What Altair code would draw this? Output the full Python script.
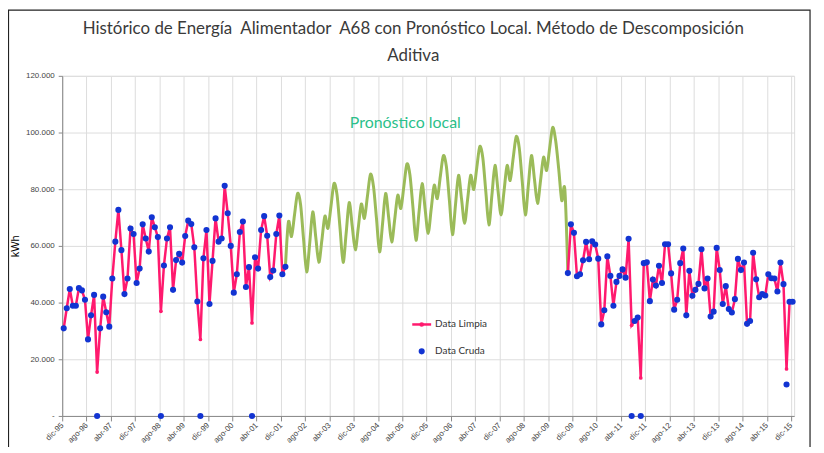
import json
import altair as alt
import pandas as pd

# ---------------- data (values in thousands of kWh) ----------------
tick_labels = ["dic-95", "ago-96", "abr-97", "dic-97", "ago-98", "abr-99", "dic-99", "ago-00",
               "abr-01", "dic-01", "ago-02", "abr-03", "dic-03", "ago-04", "abr-05", "dic-05",
               "ago-06", "abr-07", "dic-07", "ago-08", "abr-09", "dic-09", "ago-10", "abr-11",
               "dic-11", "ago-12", "abr-13", "dic-13", "ago-14", "abr-15", "dic-15"]

title_lines = ["Histórico de Energía\u00a0 Alimentador\u00a0 A68 con Pronóstico Local. Método de Descomposición",
               "Aditiva"]

# Data Limpia, month index 0 (dic-95) .. 73
limpia_a = [30.9, 38.0, 44.8, 38.9, 38.9, 45.1, 44.3, 41.0, 27.0, 35.5,
            42.7, 15.5, 30.9, 42.1, 36.6, 31.5, 48.5, 61.5, 72.7, 58.5,
            43.0, 48.5, 66.1, 64.2, 46.9, 52.0, 67.6, 62.6, 58.0, 70.1,
            66.6, 63.1, 36.9, 53.1, 62.6, 66.6, 44.5, 55.0, 57.2, 54.1,
            63.5, 68.9, 67.7, 59.5, 40.4, 27.0, 55.6, 65.6, 39.5, 54.7,
            69.7, 61.5, 62.6, 81.2, 71.5, 60.0, 43.5, 50.0, 64.9, 68.6,
            45.5, 52.5, 32.8, 56.0, 52.0, 65.6, 70.5, 63.6, 49.0, 51.3,
            64.2, 70.7, 50.0, 52.6]
# Data Limpia, month index 166 .. 240 (dic-15)
limpia_b = [50.4, 67.6, 64.6, 49.3, 50.0, 54.9, 61.4, 55.3, 61.6, 60.5,
            55.5, 32.3, 37.3, 56.3, 49.4, 38.9, 47.3, 49.4, 51.7, 48.8,
            62.5, 32.0, 33.5, 34.7, 13.4, 53.9, 54.2, 40.5, 48.1, 46.0,
            53.0, 46.9, 60.6, 60.6, 50.3, 37.5, 41.0, 53.9, 59.1, 35.5,
            51.2, 42.4, 44.5, 46.6, 58.8, 45.0, 48.5, 35.1, 36.8, 59.3,
            51.5, 39.5, 45.8, 37.7, 36.5, 41.2, 55.4, 51.5, 54.1, 32.5,
            33.5, 57.6, 48.2, 41.9, 43.0, 42.5, 50.0, 48.6, 48.5, 43.9,
            54.1, 46.5, 16.6, 40.3, 40.3]
# Data Cruda, month index 0 .. 73
cruda_a = [30.9, 38.0, 44.8, 38.9, 38.9, 45.1, 44.3, 41.0, 27.0, 35.5,
           42.7, 0.0, 30.9, 42.1, 36.6, 31.5, 48.5, 61.5, 72.7, 58.5,
           43.0, 48.5, 66.1, 64.2, 46.9, 52.0, 67.6, 62.6, 58.0, 70.1,
           66.6, 63.1, 0.0, 53.1, 62.6, 66.6, 44.5, 55.0, 57.2, 54.1,
           63.5, 68.9, 67.7, 59.5, 40.4, 0.0, 55.6, 65.6, 39.5, 54.7,
           69.7, 61.5, 62.6, 81.2, 71.5, 60.0, 43.5, 50.0, 64.9, 68.6,
           45.5, 52.5, 0.0, 56.0, 52.0, 65.6, 70.5, 63.6, 49.0, 51.3,
           64.2, 70.7, 50.0, 52.6]
# Data Cruda, month index 166 .. 240
cruda_b = [50.4, 67.6, 64.6, 49.3, 50.0, 54.9, 61.4, 55.3, 61.6, 60.5,
           55.5, 32.3, 37.3, 56.3, 49.4, 38.9, 47.3, 49.4, 51.7, 48.8,
           62.5, 0.0, 33.5, 34.7, 0.0, 53.9, 54.2, 40.5, 48.1, 46.0,
           53.0, 46.9, 60.6, 60.6, 50.3, 37.5, 41.0, 53.9, 59.1, 35.5,
           51.2, 42.4, 44.5, 46.6, 58.8, 45.0, 48.5, 35.1, 36.8, 59.3,
           51.5, 39.5, 45.8, 37.7, 36.5, 41.2, 55.4, 51.5, 54.1, 32.5,
           33.5, 57.6, 48.2, 41.9, 43.0, 42.5, 50.0, 48.6, 48.5, 43.9,
           54.1, 46.5, 11.1, 40.3, 40.3]
# Pronóstico local, month index 73 .. 166
pronostico = [52.6, 68.5, 63.3, 71.0, 78.5, 74.5, 62.0, 50.8, 61.0, 72.0,
              63.0, 54.2, 62.0, 70.5, 66.2, 74.0, 82.0, 78.0, 66.0, 54.2,
              64.5, 75.3, 67.0, 58.6, 66.5, 74.8, 69.7, 77.5, 85.3, 81.0,
              69.5, 57.9, 68.0, 78.5, 70.0, 61.4, 69.5, 77.9, 73.2, 81.0,
              88.9, 85.0, 73.5, 62.0, 72.0, 82.0, 73.0, 64.4, 73.0, 81.4,
              76.7, 84.5, 91.8, 88.0, 76.0, 64.0, 74.5, 84.9, 76.5, 68.0,
              76.5, 84.9, 79.9, 87.5, 95.1, 91.0, 79.0, 67.4, 78.0, 88.4,
              79.5, 70.9, 79.5, 88.4, 83.1, 91.0, 98.6, 94.5, 82.5, 70.9,
              81.5, 91.9, 83.5, 75.0, 83.0, 91.3, 86.6, 94.5, 101.8, 97.0,
              87.0, 76.0, 80.0, 50.4]

START_A, START_B, START_P = 0, 166, 73

def frame(values, start, seg):
    return pd.DataFrame({
        "t": [start + i + 0.5 for i in range(len(values))],
        "v": [v * 1000 for v in values],
        "seg": seg,
    })

limpia_df = pd.concat([frame(limpia_a, START_A, "a"), frame(limpia_b, START_B, "b")])
cruda_df = pd.concat([frame(cruda_a, START_A, "a"), frame(cruda_b, START_B, "b")])
pron_df = frame(pronostico, START_P, "p")

# ---------------- styling ----------------
W, H = 736, 342
FONT = "Lato"
GRID = "#777777"
PINK = "#ff1a6e"
BLUE = "#1234d2"
GREEN = "#9bbb59"

label_expr = json.dumps(tick_labels) + "[round(datum.value / 8)]"

x_enc = alt.X("t:Q",
              scale=alt.Scale(domain=[0, 241], nice=False, zero=False),
              axis=alt.Axis(values=list(range(0, 241, 8)), labelExpr=label_expr,
                            labelAngle=315, labelAlign="right", labelBaseline="middle",
                            labelFontSize=8, labelPadding=3, tickSize=5, grid=True,
                            title=None, labelOverlap=False, labelFlush=False,
                            labelColor="#444444"))
y_enc = alt.Y("v:Q",
              scale=alt.Scale(domain=[0, 120000], nice=False),
              axis=alt.Axis(values=list(range(0, 120001, 20000)),
                            labelExpr="datum.value == 0 ? '-' : replace(format(datum.value, ','), ',', '.')",
                            title="kWh", titleFontSize=11, titleFontWeight="normal",
                            titleX=-47, titleY=171, titleAlign="center", titleBaseline="middle",
                            labelFontSize=8, tickSize=4, labelPadding=4, labelColor="#444444"))

green = alt.Chart(pron_df).mark_line(color=GREEN, strokeWidth=3, interpolate="cardinal", tension=0.1).encode(
    x=x_enc, y=y_enc)
pink_line = alt.Chart(limpia_df).mark_line(color=PINK, strokeWidth=2.5).encode(
    x=x_enc, y=y_enc, detail="seg:N")
pink_pts = alt.Chart(limpia_df).mark_point(color=PINK, filled=True, size=14, opacity=1).encode(
    x=x_enc, y=y_enc)
blue_pts = alt.Chart(cruda_df).mark_point(color=BLUE, filled=True, size=38, opacity=1).encode(
    x=x_enc, y=y_enc)

one = pd.DataFrame({"k": [0]})
border = alt.Chart(one).mark_rect(fill="transparent", stroke="#222222", strokeWidth=1.2).encode(
    x=alt.value(-54), x2=alt.value(W + 16), y=alt.value(-66), y2=alt.value(H + 60))

title1 = alt.Chart(one).mark_text(text=title_lines[0], font=FONT, fontSize=17, color="#3a3a3a",
                                  align="center", baseline="middle").encode(
    x=alt.value(353), y=alt.value(-47))
title2 = alt.Chart(one).mark_text(text=title_lines[1], font=FONT, fontSize=17, color="#3a3a3a",
                                  align="center", baseline="middle").encode(
    x=alt.value(353), y=alt.value(-20))

annot = alt.Chart(one).mark_text(text="Pronóstico local", font=FONT, fontSize=16,
                                 color="#2bbf8a", align="center", baseline="middle").encode(
    x=alt.value(345), y=alt.value(47))

leg_line = alt.Chart(one).mark_rule(color=PINK, strokeWidth=2.5).encode(
    x=alt.value(352), x2=alt.value(371), y=alt.value(250))
leg_pdot = alt.Chart(one).mark_point(color=PINK, filled=True, size=22, opacity=1).encode(
    x=alt.value(361.5), y=alt.value(250))
leg_bdot = alt.Chart(one).mark_point(color=BLUE, filled=True, size=38, opacity=1).encode(
    x=alt.value(361.5), y=alt.value(277))
leg_t1 = alt.Chart(one).mark_text(text="Data Limpia", font=FONT, fontSize=10, color="#333333",
                                  align="left", baseline="middle").encode(
    x=alt.value(375), y=alt.value(250))
leg_t2 = alt.Chart(one).mark_text(text="Data Cruda", font=FONT, fontSize=10, color="#333333",
                                  align="left", baseline="middle").encode(
    x=alt.value(375), y=alt.value(277))

chart = alt.layer(
    border, green, pink_line, pink_pts, blue_pts, annot, title1, title2,
    leg_line, leg_pdot, leg_bdot, leg_t1, leg_t2,
).properties(
    width=W, height=H,
    autosize=alt.AutoSizeParams(type="none"),
    padding={"left": 54.5, "top": 67, "right": 22, "bottom": 30},
).configure_view(
    strokeWidth=0
).configure_axis(
    gridColor=GRID, gridWidth=1, gridOpacity=1, domainColor=GRID, tickColor=GRID,
    labelFont=FONT, titleFont=FONT, titleColor="#222222",
).configure(background="white")

chart.save("out.html", embed_options={"renderer": "svg", "actions": False})
